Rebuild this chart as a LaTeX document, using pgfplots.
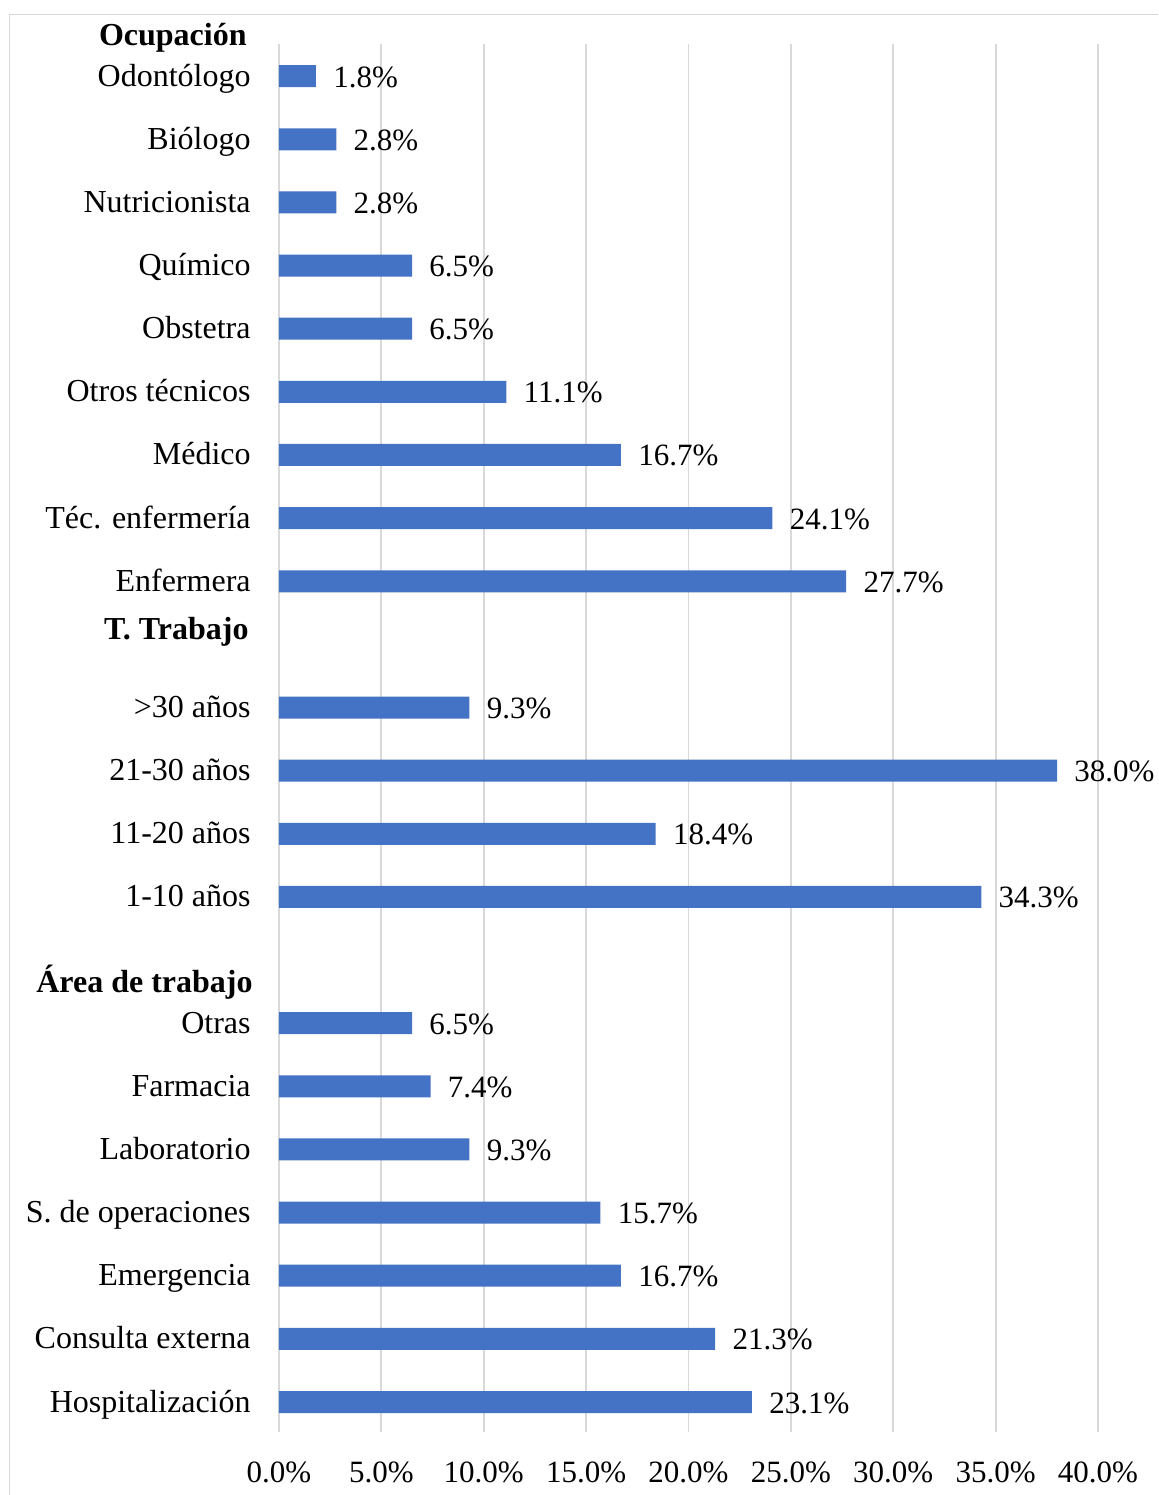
\documentclass[border=0pt]{standalone}
\usepackage{fontspec}
\setmainfont{Liberation Serif}
\usepackage{pgfplots}
\pgfplotsset{compat=1.18}
\definecolor{barblue}{HTML}{4472C4}
\definecolor{gridgray}{HTML}{D9D9D9}
\begin{document}
\begin{tikzpicture}
\newcommand{\lblfont}{\fontsize{15.5}{18}\selectfont}
\newcommand{\catfont}{\fontsize{16}{19}\selectfont}
\draw[color=gridgray, line width=0.9pt] (4.75pt,0) -- (4.75pt,740.25pt) -- (579pt,740.25pt);
\begin{axis}[
  at={(139.5pt,31.5pt)}, anchor=south west,
  scale only axis, width=409.5pt, height=694pt,
  xmin=0, xmax=40, ymin=-0.475, ymax=21.51,
  xbar, bar width=11pt, bar shift=0pt,
  axis x line*=bottom, axis y line*=left,
  axis line style={draw=none},
  major tick length=0pt,
  tick style={draw=none},
  xtick={0,5,...,40},
  xmajorgrids, grid style={color=gridgray, line width=0.9pt},
  /pgf/number format/assume math mode=true,
  xticklabel={\pgfmathprintnumber[fixed,fixed zerofill,precision=1]{\tick}\%},
  xticklabel style={font=\lblfont, anchor=center, inner sep=0pt, yshift=-20pt},
  ytick={0,1,2,3,4,5,6,8,9,10,11,13,14,15,16,17,18,19,20,21},
  yticklabels={Hospitalización,Consulta externa,Emergencia,S. de operaciones,Laboratorio,Farmacia,Otras,1-10 años,11-20 años,21-30 años,>30 años,Enfermera,Téc. enfermería,Médico,Otros técnicos,Obstetra,Químico,Nutricionista,Biólogo,Odontólogo},
  yticklabel style={font=\catfont, anchor=base east, inner sep=0pt, xshift=-14pt, yshift=-5pt},
  nodes near coords={\pgfmathprintnumber[fixed,fixed zerofill,precision=1]{\pgfplotspointmeta}\%},
  nodes near coords style={font=\lblfont, anchor=base west, inner sep=0pt, xshift=8.5pt, yshift=-5.5pt},
  clip=false,
]
\addplot[fill=barblue, draw=none] coordinates {
  (23.1,0) (21.3,1) (16.7,2) (15.7,3) (9.3,4) (7.4,5) (6.5,6)
  (34.3,8) (18.4,9) (38.0,10) (9.3,11)
  (27.7,13) (24.1,14) (16.7,15) (11.1,16) (6.5,17) (6.5,18) (2.8,19) (2.8,20) (1.8,21)
};
\node[font=\catfont\bfseries, anchor=base east, inner sep=0pt, xshift=-16pt] at (axis cs:0,21.49) {Ocupación};
\node[font=\catfont\bfseries, anchor=base east, inner sep=0pt, xshift=-15pt] at (axis cs:0,12.07) {T. Trabajo};
\node[font=\catfont\bfseries, anchor=base east, inner sep=0pt, xshift=-13pt] at (axis cs:0,6.49) {Área de trabajo};
\end{axis}
\pgfresetboundingbox
\path (0,0) rectangle (579pt,747.5pt);
\end{tikzpicture}
\end{document}
